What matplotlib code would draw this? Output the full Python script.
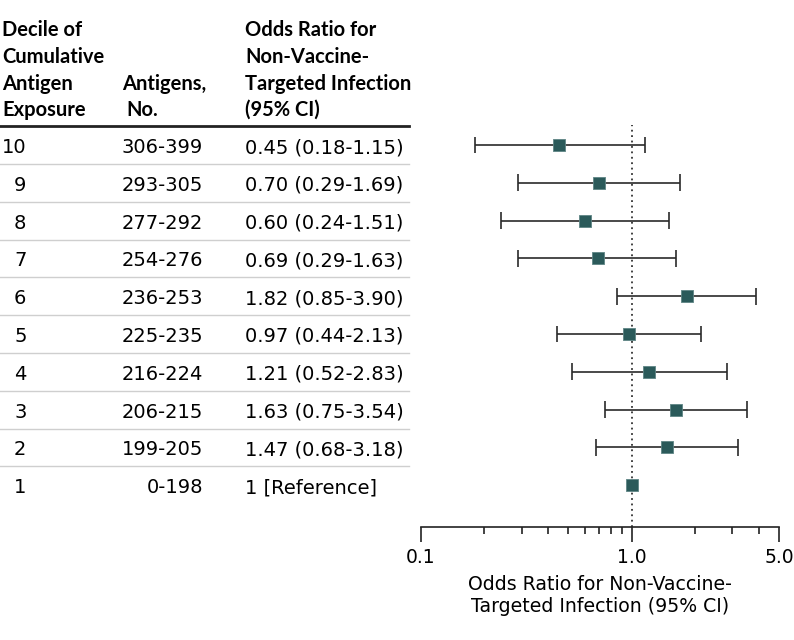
import matplotlib
matplotlib.use("Agg")
import matplotlib.pyplot as plt
import numpy as np

plt.rcParams['font.family'] = ['DejaVu Sans']

# Tabelle
deciles = [10, 9, 8, 7, 6, 5, 4, 3, 2, 1]
antigens = ['306-399', '293-305', '277-292', '254-276', '236-253',
            '225-235', '216-224', '206-215', '199-205', '0-198']
odds = [0.45, 0.70, 0.60, 0.69, 1.82, 0.97, 1.21, 1.63, 1.47, 1.0]
ci_low = [0.18, 0.29, 0.24, 0.29, 0.85, 0.44, 0.52, 0.75, 0.68, np.nan]
ci_high = [1.15, 1.69, 1.51, 1.63, 3.90, 2.13, 2.83, 3.54, 3.18, np.nan]
or_labels = ['0.45 (0.18-1.15)', '0.70 (0.29-1.69)', '0.60 (0.24-1.51)',
             '0.69 (0.29-1.63)', '1.82 (0.85-3.90)', '0.97 (0.44-2.13)',
             '1.21 (0.52-2.83)', '1.63 (0.75-3.54)', '1.47 (0.68-3.18)',
             '1 [Reference]']
xticks = [0.1, 1.0, 5.0]
xtick_labels = ['0.1', '1.0', '5.0']

W, H = 794, 640
fig = plt.figure(figsize=(W / 100, H / 100), dpi=100)

# pixel layout
row_top = 145.0
row_step = 37.8
ax_left, ax_right = 421, 779
ax_bottom, ax_top = 527, 125

ylo = 1 - (ax_bottom - (row_top + 9 * row_step)) / row_step
yhi = 10 + (row_top - ax_top) / row_step

ax = fig.add_axes([ax_left / W, 1 - ax_bottom / H,
                   (ax_right - ax_left) / W, (ax_bottom - ax_top) / H])
ax.set_xscale('log')
ax.set_xlim(0.1, 5.0)
ax.set_ylim(ylo, yhi)

ax.axvline(1.0, color='#333333', linestyle=(0, (1, 2)), linewidth=1.3, zorder=1)

y = np.array(deciles, dtype=float)
lo = np.array(ci_low)
hi = np.array(ci_high)
mask = ~np.isnan(lo)
cap = 0.22
ax.hlines(y[mask], lo[mask], hi[mask], color='#2a2a2a', linewidth=1.2, zorder=2)
ax.vlines(lo[mask], y[mask] - cap, y[mask] + cap, color='#2a2a2a', linewidth=1.2, zorder=2)
ax.vlines(hi[mask], y[mask] - cap, y[mask] + cap, color='#2a2a2a', linewidth=1.2, zorder=2)
ax.scatter(odds, y, marker='s', s=66, color='#2b5a5a', zorder=3,
           edgecolors='#5f8585', linewidths=0.6)

for s in ['top', 'right', 'left']:
    ax.spines[s].set_visible(False)
ax.spines['bottom'].set_linewidth(1.2)
ax.spines['bottom'].set_color('#222222')
ax.set_yticks([])
ax.set_xticks(xticks)
ax.set_xticklabels(xtick_labels, fontsize=13.5)
ax.set_xticks([0.2, 0.3, 0.4, 0.5, 0.6, 0.7, 0.8, 0.9, 2, 3, 4], minor=True)
ax.xaxis.set_minor_formatter(matplotlib.ticker.NullFormatter())
ax.tick_params(axis='x', which='major', length=11, width=1.2, color='#222222', pad=4)
ax.tick_params(axis='x', which='minor', length=5, width=1.2, color='#222222')
ax.set_xlabel('Odds Ratio for Non-Vaccine-\nTargeted Infection (95% CI)',
              fontsize=13.6, labelpad=6, linespacing=1.2)

# table overlay in pixel coords
tx = fig.add_axes([0, 0, 1, 1], zorder=-1)
tx.set_xlim(0, W)
tx.set_ylim(H, 0)
tx.axis('off')

fs = 14
hfont = dict(fontsize=14.5, fontweight='bold', family=['Lato', 'DejaVu Sans'],
             va='baseline', ha='left')
header_rows = [36, 63, 90, 115.5]
for yy, t in zip(header_rows, ['Decile of', 'Cumulative', 'Antigen', 'Exposure']):
    tx.text(2, yy, t, **hfont)
tx.text(122, header_rows[2], 'Antigens,', **hfont)
tx.text(126, header_rows[3], 'No.', **hfont)
for yy, t in zip(header_rows, ['Odds Ratio for', 'Non-Vaccine-',
                               'Targeted Infection', '(95% CI)']):
    tx.text(245, yy, t, **hfont)

tx.plot([0, 409], [126, 126], color='#222222', linewidth=2)

for i, d in enumerate(deciles):
    yy = row_top + i * row_step
    base = yy + 8
    tx.text(2 if d == 10 else 14, base, str(d), fontsize=fs, va='baseline')
    tx.text(203, base, antigens[i], fontsize=fs, va='baseline', ha='right')
    tx.text(245, base, or_labels[i], fontsize=fs, va='baseline')
    if i < len(deciles) - 1:
        tx.plot([0, 409], [yy + 19] * 2, color='#cfcfcf', linewidth=1)

fig.savefig('out.png', dpi=100)
